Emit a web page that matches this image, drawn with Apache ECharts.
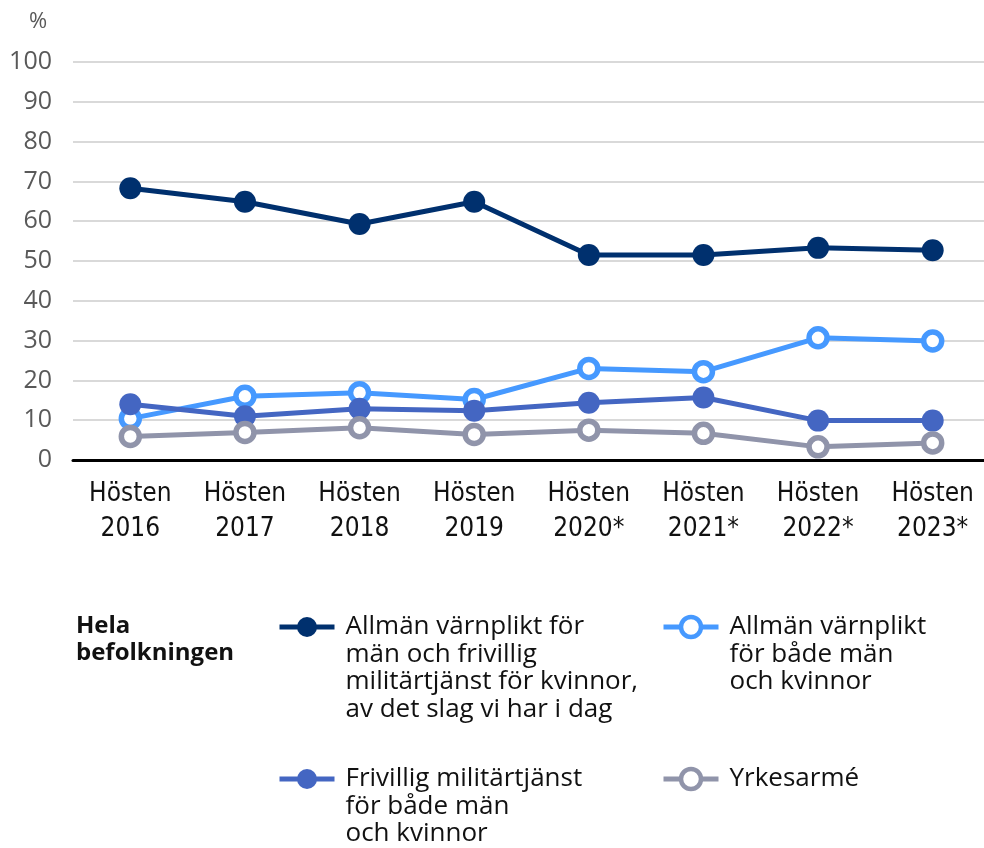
<!DOCTYPE html>
<html>
<head>
<meta charset="utf-8">
<script src="https://cdn.jsdelivr.net/npm/echarts@6/dist/echarts.min.js"></script>
<style>
  html, body { margin: 0; padding: 0; background: #fff; }
  #chart { width: 984px; height: 848px; }
</style>
</head>
<body>
<div id="chart"></div>
<script>
// kategorier och värden (procent)
const categories = ['Hösten\n2016', 'Hösten\n2017', 'Hösten\n2018', 'Hösten\n2019',
  'Hösten\n2020*', 'Hösten\n2021*', 'Hösten\n2022*', 'Hösten\n2023*']
const allmanMan = [68.3, 64.9, 59.3, 64.9, 51.5, 51.5, 53.3, 52.7]
const allmanBada = [10.4, 16.0, 16.9, 15.2, 23.0, 22.2, 30.7, 29.9]
const frivillig = [14.0, 11.0, 12.9, 12.4, 14.4, 15.7, 9.9, 9.9]
const yrkesarme = [5.9, 6.9, 8.1, 6.4, 7.5, 6.7, 3.3, 4.3]

const names = [
  'Allmän värnplikt för\nmän och frivillig\nmilitärtjänst för kvinnor,\nav det slag vi har i dag',
  'Allmän värnplikt\nför både män\noch kvinnor',
  'Frivillig militärtjänst\nför både män\noch kvinnor',
  'Yrkesarmé'
]
const colors = ['#00306e', '#4699ff', '#4466c2', '#9094aa']

const font = '"Open Sans", "Noto Sans", sans-serif'
const legendLine = 27.5

const chart = echarts.init(document.getElementById('chart'))

function filledSeries(i, data, z) {
  return {
    name: names[i],
    type: 'line',
    data: data,
    z: z,
    symbol: 'circle',
    symbolSize: 22,
    lineStyle: { color: colors[i], width: 5 },
    itemStyle: { color: colors[i] },
    emphasis: { disabled: true }
  }
}

function hollowSeries(i, data, z) {
  return {
    name: names[i],
    type: 'line',
    data: data,
    z: z,
    symbol: 'circle',
    symbolSize: 18,
    lineStyle: { color: colors[i], width: 5 },
    itemStyle: { color: '#fff', borderColor: colors[i], borderWidth: 5.5 },
    emphasis: { disabled: true }
  }
}

// en legend per post så att de kan placeras i ett 2x2-rutnät.
// Texten centreras mot ikonen, så tomma rader läggs före texten
// för att första raden ska hamna i höjd med ikonen.
function legendItem(i, left, iconY, hollow) {
  const n = names[i].split('\n').length
  const total = (2 * n - 1) * legendLine
  return {
    left: left,
    top: iconY - total / 2,
    padding: 0,
    itemWidth: 55,
    itemHeight: 25,
    selectedMode: false,
    formatter: name => '\n'.repeat(n - 1) + name,
    data: [{
      name: names[i],
      lineStyle: { color: colors[i], width: 5 },
      itemStyle: hollow
        ? { color: '#fff', borderColor: colors[i], borderWidth: 4.5 }
        : { color: colors[i], borderWidth: 0 }
    }],
    textStyle: {
      fontFamily: font,
      fontSize: 26,
      lineHeight: legendLine,
      color: '#111',
      padding: [0, 0, 0, 6]
    }
  }
}

chart.setOption({
  animation: false,
  title: [{
    text: '%',
    left: 29,
    top: 11,
    padding: 0,
    textStyle: { fontFamily: font, fontSize: 22, fontWeight: 'normal', color: '#595959', lineHeight: 22 }
  }, {
    text: 'Hela\nbefolkningen',
    left: 76,
    top: 613,
    padding: 0,
    textStyle: { fontFamily: font, fontSize: 24, fontWeight: 'bold', color: '#111', lineHeight: 26.7 }
  }],
  legend: [
    legendItem(0, 277, 627, false),
    legendItem(1, 661, 627, true),
    legendItem(2, 277, 779, false),
    legendItem(3, 661, 779, true)
  ],
  grid: {
    left: 73,
    top: 62,
    width: 917,
    height: 398,
    containLabel: false,
    outerBoundsMode: 'none'
  },
  xAxis: {
    type: 'category',
    data: categories,
    boundaryGap: true,
    axisLine: { show: true, lineStyle: { color: '#000', width: 3 } },
    axisTick: { show: false },
    axisLabel: {
      margin: 17,
      interval: 0,
      fontFamily: '"Liberation Sans Narrow", "DejaVu Sans Condensed", sans-serif',
      fontSize: 26,
      lineHeight: 35,
      color: '#111'
    }
  },
  yAxis: {
    type: 'value',
    min: 0,
    max: 100,
    interval: 10,
    axisLine: { show: false },
    axisTick: { show: false },
    splitLine: { lineStyle: { color: '#d9d9d9', width: 2 } },
    axisLabel: {
      margin: 21,
      fontFamily: font,
      fontSize: 25,
      color: '#595959'
    }
  },
  series: [
    hollowSeries(1, allmanBada, 2),
    filledSeries(2, frivillig, 3),
    hollowSeries(3, yrkesarme, 4),
    filledSeries(0, allmanMan, 5)
  ]
})
</script>
</body>
</html>
